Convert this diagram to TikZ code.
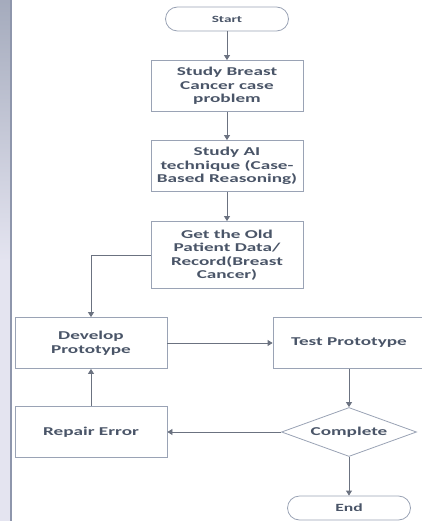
\documentclass[tikz,border=0pt]{standalone}
\usepackage{fontspec}
\newfontfamily\flowfont[FakeStretch=1.6]{Carlito}
\usetikzlibrary{shapes.geometric,arrows.meta}

\definecolor{boxline}{HTML}{9AA3B5}
\definecolor{wire}{HTML}{6B7280}
\definecolor{ink}{HTML}{4A5568}
\definecolor{barlight}{HTML}{E4E4F0}
\definecolor{bardark}{HTML}{8E96AC}

\begin{document}
\begin{tikzpicture}[x=1pt,y=-1pt,
  box/.style={draw=boxline,line width=0.8pt,fill=white,minimum width=152pt,minimum height=51pt,
    inner sep=2pt,align=center,text=ink,font=\flowfont\bfseries\fontsize{12}{13.5}\selectfont},
  term/.style={draw=boxline,line width=0.8pt,fill=white,rounded corners=12pt,minimum width=123pt,
    minimum height=24pt,inner sep=0pt,text=ink},
  test/.style={draw=boxline,line width=0.8pt,fill=white,diamond,aspect=2.7,minimum width=135pt,
    minimum height=49pt,inner sep=0pt,text=ink,font=\flowfont\bfseries\fontsize{12}{13.5}\selectfont},
  arr/.style={draw=wire,line width=0.8pt,-{Triangle[width=6pt,length=5pt]}}]
  \useasboundingbox (0,0) rectangle (421,521);
  % side bar
  \shade[top color=bardark!80,bottom color=barlight,middle color=barlight] (0,0) rectangle (10,521);
  \fill[bardark] (10,0) rectangle (12,521);
  % nodes
  \node[term,font=\flowfont\bfseries\fontsize{9.5}{11}\selectfont] (start) at (227,19) {Start};
  \node[box] (s1) at (227,86) {Study Breast\\Cancer case\\problem};
  \node[box] (s2) at (227,166) {Study AI\\technique (Case-\\Based Reasoning)};
  \node[box,minimum height=67pt] (s3) at (227,255) {Get the Old\\Patient Data/\\Record(Breast\\Cancer)};
  \node[box] (dev) at (91,343) {Develop\\Prototype};
  \node[box] (proto) at (349,343) {Test Prototype};
  \node[box] (fix) at (91,432) {Repair Error};
  \node[test] (done) at (349,432) {Complete};
  \node[term,font=\flowfont\bfseries\fontsize{11}{13}\selectfont] (finish) at (349,508) {End};
  % connectors
  \draw[arr] (start) -- (s1);
  \draw[arr] (s1) -- (s2);
  \draw[arr] (s2) -- (s3);
  \draw[arr] (s3.west) -| (dev);
  \draw[arr] (dev) -- (proto);
  \draw[arr] (proto) -- (done);
  \draw[arr] (done) -- (fix);
  \draw[arr] (fix) -- (dev);
  \draw[arr] (done) -- (finish);
\end{tikzpicture}
\end{document}
